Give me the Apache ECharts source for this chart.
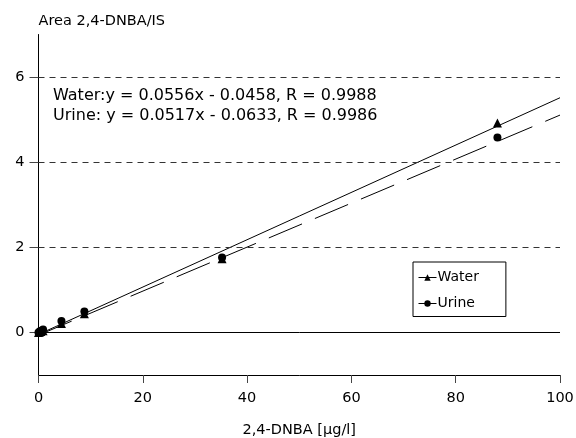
<!DOCTYPE html>
<html>
<head>
<meta charset="utf-8">
<script src="https://cdn.jsdelivr.net/npm/echarts@6/dist/echarts.min.js"></script>
<style>html,body{margin:0;padding:0;background:#fff;}#c{width:576px;height:438px;}</style>
</head>
<body>
<div id="c"></div>
<script>
// Data
var conc = [0, 0.22, 0.44, 0.88, 4.4, 8.8, 35.2, 88];
var waterArea = [0, 0.01, 0.02, 0.04, 0.21, 0.44, 1.73, 4.92];
var urineArea = [0, 0.02, 0.04, 0.07, 0.27, 0.49, 1.76, 4.58];
var fitSlope = [0.0556, 0.0517];       // Water, Urine
var fitIntercept = [-0.0458, -0.0633];
var fitRange = [0, 100];
var yTickValues = [0, 2, 4, 6];
var gridValues = [2, 4, 6];
var equations = ['Water:y = 0.0556x - 0.0458, R = 0.9988', 'Urine: y = 0.0517x - 0.0633, R = 0.9986'];

function pairs(xs, ys) { return xs.map(function (x, i) { return [x, ys[i]]; }); }
function fit(k) { return fitRange.map(function (x) { return [x, fitSlope[k] * x + fitIntercept[k]]; }); }

var FONT = '"DejaVu Sans", Verdana, sans-serif';
var chart = echarts.init(document.getElementById('c'), null, { renderer: 'canvas' });
chart.setOption({
  animation: false,
  backgroundColor: '#fff',
  textStyle: { fontFamily: FONT },
  grid: { left: 38.5, right: 16, top: 34.5, bottom: 63, containLabel: false, outerBoundsMode: 'none' },
  xAxis: {
    type: 'value', min: 0, max: 100, interval: 20,
    name: '2,4-DNBA [\u00b5g/l]', nameLocation: 'middle', nameGap: 48,
    nameTextStyle: { fontSize: 14.5, color: '#000', fontFamily: FONT },
    axisLine: { show: true, onZero: false, lineStyle: { color: '#000', width: 1 } },
    axisTick: { show: true, inside: false, length: 8, lineStyle: { color: '#444' } },
    axisLabel: { fontSize: 14.5, color: '#000', margin: 16, fontFamily: FONT },
    splitLine: { show: false }
  },
  yAxis: {
    type: 'value', min: -1, max: 7, interval: 1,
    name: 'Area 2,4-DNBA/IS', nameLocation: 'end', nameGap: 6,
    nameTextStyle: { fontSize: 14.5, color: '#000', align: 'left', fontFamily: FONT },
    axisLine: { show: true, onZero: false, lineStyle: { color: '#000', width: 1 } },
    axisTick: { show: true, length: 9, customValues: yTickValues, lineStyle: { color: '#444' } },
    axisLabel: { fontSize: 14.5, color: '#000', margin: 14, customValues: yTickValues, fontFamily: FONT },
    splitLine: { show: false }
  },
  legend: {
    orient: 'vertical', left: 413, top: 262,
    data: ['Water', 'Urine'],
    backgroundColor: '#fff', borderColor: '#000', borderWidth: 1,
    padding: [8.5, 27, 6, 5], itemGap: 12, itemWidth: 18, itemHeight: 8,
    lineStyle: { opacity: 1, width: 1, color: '#000' },
    textStyle: { fontSize: 14, color: '#000', fontFamily: FONT, padding: [0, 0, 0, -4] }
  },
  graphic: [
    { type: 'text', left: 53, top: 88, style: { text: equations[0], font: '16px ' + FONT, fill: '#000' } },
    { type: 'text', left: 53, top: 108, style: { text: equations[1], font: '16px ' + FONT, fill: '#000' } }
  ],
  series: [
    {
      name: 'Water', type: 'line', data: pairs(conc, waterArea),
      symbol: 'triangle', symbolSize: 9, z: 5,
      itemStyle: { color: '#000' }, lineStyle: { opacity: 0, color: '#000' },
      markLine: {
        silent: true, symbol: 'none', label: { show: false },
        data: gridValues.map(function (v) {
          return { yAxis: v, lineStyle: { color: '#333', type: [6, 5], width: 1 } };
        }).concat([{ yAxis: 0, lineStyle: { color: '#000', type: 'solid', width: 1 } }])
      }
    },
    {
      name: 'Urine', type: 'line', data: pairs(conc, urineArea),
      symbol: 'circle', symbolSize: 8, z: 5,
      itemStyle: { color: '#000' }, lineStyle: { opacity: 0, color: '#000' }
    },
    {
      name: 'Water fit', type: 'line', data: fit(0), symbol: 'none', z: 3,
      lineStyle: { color: '#000', width: 1, type: 'solid' }
    },
    {
      name: 'Urine fit', type: 'line', data: fit(1), symbol: 'none', z: 3,
      lineStyle: { color: '#000', width: 1, type: [36, 14] }
    }
  ]
});
</script>
</body>
</html>
